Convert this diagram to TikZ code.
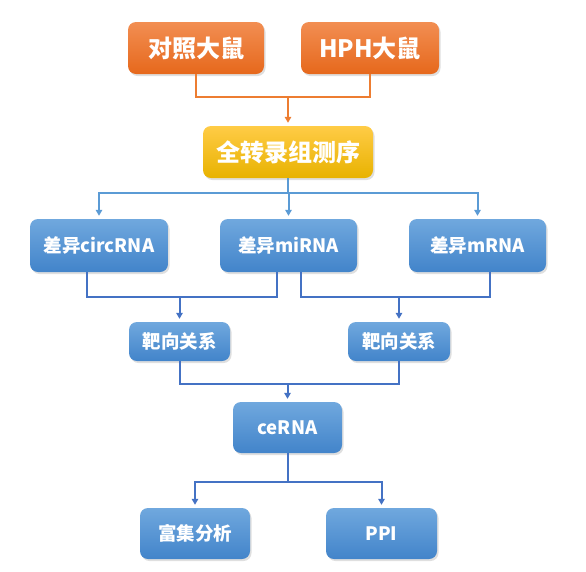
\documentclass[tikz,border=0pt]{standalone}
\usepackage{fontspec}
\newfontfamily\cjk{Noto Sans CJK SC}
\usepackage{tikz}
\usetikzlibrary{positioning, arrows.meta, calc, shadows}
\definecolor{orgtop}{RGB}{242,142,82}
\definecolor{orgbot}{RGB}{230,104,28}
\definecolor{yeltop}{RGB}{255,204,70}
\definecolor{yelbot}{RGB}{232,178,0}
\definecolor{blutop}{RGB}{112,168,222}
\definecolor{blubot}{RGB}{66,132,202}
\definecolor{oline}{RGB}{237,125,49}
\definecolor{bline}{RGB}{91,155,213}
\definecolor{dline}{RGB}{68,114,196}
\tikzset{
  card/.style={rounded corners=8pt, align=center, text=white, font=\cjk\bfseries\fontsize{18.5}{20}\selectfont, inner sep=0pt,
    drop shadow={opacity=0.25, shadow xshift=1.5pt, shadow yshift=-2pt}},
  rat/.style={card, top color=orgtop, bottom color=orgbot, font=\cjk\bfseries\fontsize{24}{26}\selectfont},
  seqbox/.style={card, top color=yeltop, bottom color=yelbot, font=\cjk\bfseries\fontsize{24}{26}\selectfont},
  rna/.style={card, top color=blutop, bottom color=blubot},
  oflow/.style={draw=oline, line width=2pt},
  bflow/.style={draw=bline, line width=2pt},
  dflow/.style={draw=dline, line width=2pt},
  tip/.style={-{Triangle[length=6pt, width=6.5pt]}, shorten >=3pt},
}
\begin{document}
\begin{tikzpicture}[x=1pt, y=1pt]
  \fill[white] (0,0) rectangle (586,-571);
  \useasboundingbox (0,0) rectangle (586,-571);
  % rats and sequencing
  \node[rat, minimum width=136pt, minimum height=52pt] (ctrl) at (196,-48) {对照大鼠};
  \node[rat, minimum width=138pt, minimum height=52pt] (hph) at (370,-48) {HPH大鼠};
  \node[seqbox, minimum width=170pt, minimum height=52pt] (seq) at (288,-152) {全转录组测序};
  % differential RNAs
  \node[rna, minimum width=138pt, minimum height=53pt] (circ) at (99,-245.5) {差异circRNA};
  \node[rna, minimum width=137pt, minimum height=53pt] (mi) at (288.5,-245.5) {差异miRNA};
  \node[rna, minimum width=137pt, minimum height=53pt] (m) at (477.5,-245.5) {差异mRNA};
  \node[rna, minimum width=101pt, minimum height=39pt] (tgtL) at (179.5,-341.5) {靶向关系};
  \node[rna, minimum width=102pt, minimum height=39pt] (tgtR) at (399,-341.5) {靶向关系};
  \node[rna, minimum width=109pt, minimum height=51pt] (cerna) at (287.5,-427.5) {ceRNA};
  \node[rna, minimum width=110pt, minimum height=51pt] (enrich) at (195,-533.5) {富集分析};
  \node[rna, minimum width=111pt, minimum height=51pt] (ppi) at (381.5,-533.5) {PPI};
  % joints
  \coordinate (j1) at ($(seq.north)+(0,29)$);
  \coordinate (j2) at ($(seq.south)+(0,-15)$);
  \coordinate (j3) at ($(tgtL.north)+(0,25)$);
  \coordinate (j4) at ($(tgtR.north)+(0,25)$);
  \coordinate (j5) at ($(cerna.north)+(0,17.5)$);
  \coordinate (j6) at ($(cerna.south)+(0,-29)$);
  \draw[oflow] (ctrl.south) |- (j1) -| (hph.south);
  \draw[oflow, tip] (j1) -- (seq.north);
  \draw[bflow] (seq.south) -- (j2);
  \foreach \b in {circ, mi, m} {\draw[bflow, tip] (j2) -| (\b.north);}
  \draw[dflow] ([xshift=-12pt]circ.south) |- (j3) -| ([xshift=-12pt]mi.south);
  \draw[dflow, tip] (j3) -- (tgtL.north);
  \draw[dflow] ([xshift=12pt]mi.south) |- (j4) -| ([xshift=12pt]m.south);
  \draw[dflow, tip] (j4) -- (tgtR.north);
  \draw[dflow] (tgtL.south) |- (j5) -| (tgtR.south);
  \draw[dflow, tip] (j5) -- (cerna.north);
  \draw[dflow] (cerna.south) -- (j6);
  \foreach \b in {enrich, ppi} {\draw[dflow, tip] (j6) -| (\b.north);}
\end{tikzpicture}
\end{document}
